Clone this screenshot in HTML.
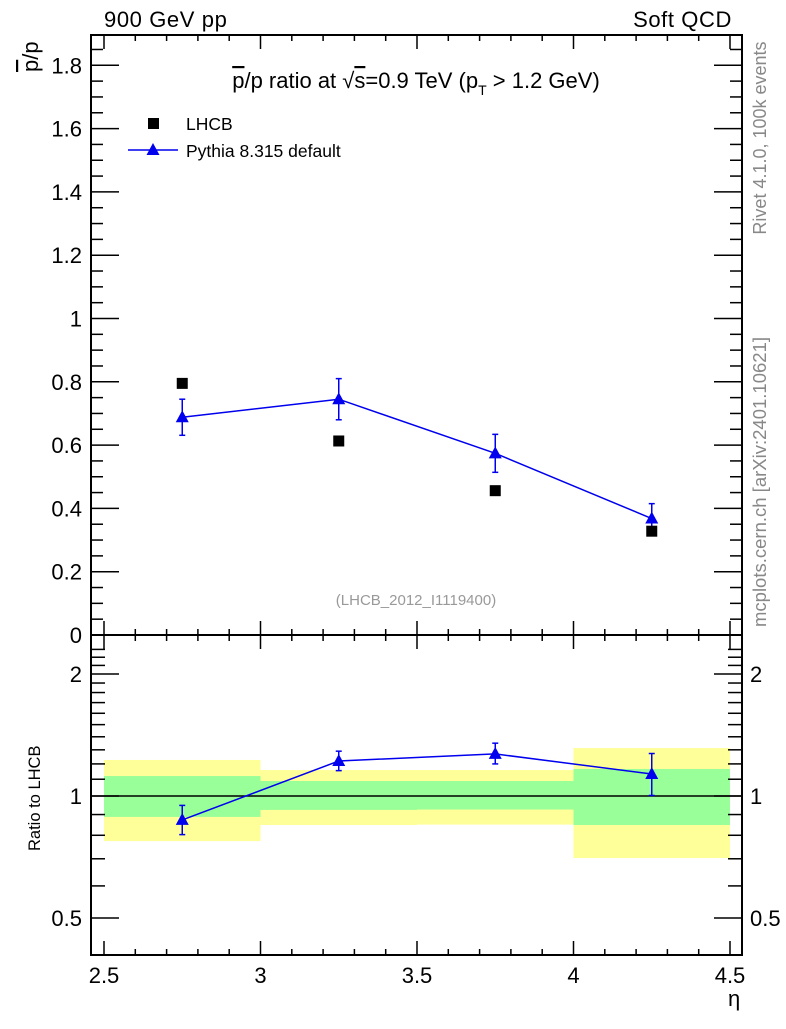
<!DOCTYPE html>
<html><head><meta charset="utf-8"><style>
body{margin:0;background:#fff}
svg text{font-family:"Liberation Sans",sans-serif}
</style></head><body>
<svg id="c" width="786" height="1024" xmlns="http://www.w3.org/2000/svg"></svg>
<script>
const etaCenters=[2.75,3.25,3.75,4.25];
const binEdges=[[2.5,3],[3,3.5],[3.5,4],[4,4.5]];
const lhcbValues=[0.795,0.613,0.456,0.328];
const pythiaValues=[0.688,0.745,0.574,0.368];
const pythiaErrors=[0.057,0.065,0.06,0.047];
const ratioValues=[0.873,1.22,1.27,1.133];
const ratioErrUp=[0.075,0.07,0.08,0.14];
const ratioErrDn=[0.07,0.065,0.07,0.13];
const yellowUp=[1.227,1.159,1.159,1.313];
const yellowDn=[0.774,0.848,0.85,0.703];
const greenUp=[1.12,1.089,1.089,1.166];
const greenDn=[0.888,0.924,0.926,0.848];
const xTicks=[2.5,3,3.5,4,4.5];
const yTicks=[0,0.2,0.4,0.6,0.8,1,1.2,1.4,1.6,1.8];
const rTicks=[0.5,1,2];

const NS="http://www.w3.org/2000/svg",svg=document.getElementById('c');
const L=91,R=742,T=35,M=635,B=955;
const X=v=>104+(v-2.5)*313;
const Y=v=>635-v*316.5;
const RY=v=>796-122*Math.log2(v);
function el(t,a,p){const e=document.createElementNS(NS,t);for(const k in a)e.setAttribute(k,a[k]);(p||svg).appendChild(e);return e;}
function txt(s,x,y,a,p){const e=el('text',Object.assign({x:x,y:y},a),p);e.textContent=s;return e;}

const bands=el('g',{});


binEdges.forEach((b,i)=>{
 const y1=el('rect',{x:X(b[0]),y:RY(yellowUp[i]),width:X(b[1])-X(b[0]),height:RY(yellowDn[i])-RY(yellowUp[i]),fill:'#ffff99'},bands);
 
 
 const g1=el('rect',{x:X(b[0]),y:RY(greenUp[i]),width:X(b[1])-X(b[0]),height:RY(greenDn[i])-RY(greenUp[i]),fill:'#99ff99'},bands);
 
 
});
el('line',{x1:L,x2:R,y1:RY(1),y2:RY(1),stroke:'#000','stroke-width':1.5});

el('rect',{x:L,y:T,width:R-L,height:M-T,fill:'none',stroke:'#000','stroke-width':2});
el('rect',{x:L,y:M,width:R-L,height:B-M,fill:'none',stroke:'#000','stroke-width':2});

const tk=el('g',{stroke:'#000','stroke-width':1.5});
for(let v=2.5;v<=4.501;v+=0.1){
 const maj=Math.abs(v*2-Math.round(v*2))<1e-6, len=maj?14:6, x=X(v);
 [T,M].forEach(y=>el('line',{x1:x,x2:x,y1:y,y2:y+len},tk));
 [M,B].forEach(y=>el('line',{x1:x,x2:x,y1:y,y2:y-len},tk));
}
for(let v=0;v<=1.9;v+=0.05){
 const maj=Math.abs(v*5-Math.round(v*5))<1e-6,len=maj?28:12,y=Y(v);
 if(y<T)continue;
 el('line',{x1:L,x2:L+len,y1:y,y2:y},tk);el('line',{x1:R,x2:R-len,y1:y,y2:y},tk);
}
const rminor=[0.4,0.5,0.6,0.7,0.8,0.9,1,1.1,1.2,1.3,1.4,1.5,1.6,1.7,1.8,1.9,2,2.1,2.2,2.3];
rminor.forEach(v=>{const y=RY(v);if(y>B||y<M)return;const maj=rTicks.includes(v),len=maj?28:14;
 el('line',{x1:L,x2:L+len,y1:y,y2:y},tk);el('line',{x1:R,x2:R-len,y1:y,y2:y},tk);});

xTicks.forEach(v=>{const t=txt(String(v),X(v),983,{'font-size':22,'text-anchor':'middle'});});
yTicks.forEach(v=>{const t=txt(String(v),82,Y(v)+8,{'font-size':22,'text-anchor':'end'});});
rTicks.forEach(v=>{
 const a=txt(String(v),82,RY(v)+8,{'font-size':22,'text-anchor':'end'});
 const b=txt(String(v),750,RY(v)+8,{'font-size':22});
});

const pl=el('polyline',{points:etaCenters.map((e,i)=>X(e)+','+Y(pythiaValues[i])).join(' '),fill:'none',stroke:'#0000ee','stroke-width':1.5});


function tri(x,y,g){return el('polygon',{points:`${x},${y-7} ${x-6.5},${y+5} ${x+6.5},${y+5}`,fill:'#0000ee'},g);}
function errbar(x,y1,y2,g){el('line',{x1:x,x2:x,y1:y1,y2:y2,stroke:'#0000ee','stroke-width':1.5},g);[y1,y2].forEach(y=>el('line',{x1:x-3,x2:x+3,y1:y,y2:y,stroke:'#0000ee','stroke-width':1.5},g));}
etaCenters.forEach((e,i)=>{
 const g=el('g',{});
 errbar(X(e),Y(pythiaValues[i]+pythiaErrors[i]),Y(pythiaValues[i]-pythiaErrors[i]),g);tri(X(e),Y(pythiaValues[i]),g);
 const s=el('rect',{x:X(e)-5.5,y:Y(lhcbValues[i])-5.5,width:11,height:11,fill:'#000'});
 
});
const rl=el('polyline',{points:etaCenters.map((e,i)=>X(e)+','+RY(ratioValues[i])).join(' '),fill:'none',stroke:'#0000ee','stroke-width':1.5});


etaCenters.forEach((e,i)=>{
 const g=el('g',{});
 errbar(X(e),RY(ratioValues[i]+ratioErrUp[i]),RY(ratioValues[i]-ratioErrDn[i]),g);tri(X(e),RY(ratioValues[i]),g);
});

const lg=el('g',{});
el('rect',{x:148,y:118,width:11,height:11,fill:'#000'},lg);
txt('LHCB',186,130,{'font-size':17.5},lg);
el('line',{x1:128,x2:178,y1:150,y2:150,stroke:'#0000ee','stroke-width':1.5},lg);
tri(153,150,lg);
txt('Pythia 8.315 default',186,157,{'font-size':17.5},lg);

svg.insertAdjacentHTML('beforeend',`
<text x="104" y="27" font-size="22" letter-spacing="0.6">900 GeV pp</text>
<text x="732" y="27" font-size="22" letter-spacing="0.6" text-anchor="end">Soft QCD</text>
<text x="416" y="88" font-size="22" text-anchor="middle"><tspan text-decoration="overline">p</tspan>/p ratio at √<tspan text-decoration="overline">s</tspan>=0.9 TeV (p<tspan font-size="14" dy="7">T</tspan><tspan dy="-7"> &gt; 1.2 GeV)</tspan></text>
<text transform="translate(38,72) rotate(-90)" font-size="22"><tspan text-decoration="overline">p</tspan>/p</text>
<text transform="translate(40,851) rotate(-90)" font-size="16.5">Ratio to LHCB</text>
<text x="728" y="1006" font-size="22">η</text>
<text x="416" y="605" font-size="15" fill="#999" text-anchor="middle">(LHCB_2012_I1119400)</text>
<text transform="translate(766,138) rotate(-90)" font-size="18" fill="#888" text-anchor="middle">Rivet 4.1.0,  100k events</text>
<text transform="translate(766,482) rotate(-90)" font-size="18.5" fill="#888" text-anchor="middle">mcplots.cern.ch [arXiv:2401.10621]</text>
`);
</script>
</body></html>
